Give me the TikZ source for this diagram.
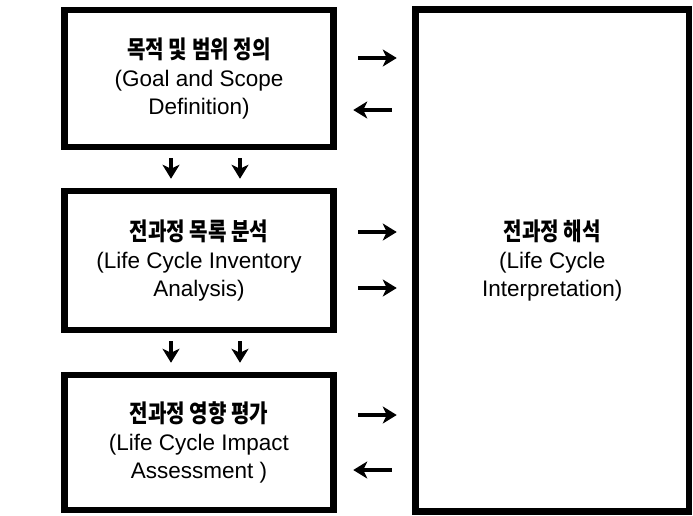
\documentclass[tikz,border=0pt]{standalone}
\usepackage{fontspec}
\setmainfont{Liberation Sans}
\newfontfamily\kr[FakeStretch=0.82]{Noto Sans CJK KR}
\usetikzlibrary{arrows.meta}
\begin{document}
\begin{tikzpicture}[x=1pt,y=-1pt,
  box/.style={draw=black, line width=6.5pt, fill=white, align=center, inner sep=0pt,
    font=\fontsize{22.5}{28}\selectfont, minimum width=269pt},
  kor/.style={},
  arr/.style={line width=4.5pt, -{Stealth[length=14pt,width=17pt,inset=4pt]}}]
\newcommand{\krline}[1]{{\kr\bfseries\fontsize{24.5}{28}\selectfont #1}}
\useasboundingbox[fill=white] (0,0) rectangle (693,515);
\node[box, minimum height=137pt] (b1) at (199,78.5)
  {\krline{목적 및 범위 정의}\\(Goal and Scope\\Definition)};
\node[box, minimum height=139pt] (b2) at (199,260.5)
  {\krline{전과정 목록 분석}\\(Life Cycle Inventory\\Analysis)};
\node[box, minimum height=135pt] (b3) at (199,442.5)
  {\krline{전과정 영향 평가}\\(Life Cycle Impact\\Assessment )};
\node[box, minimum width=273.5pt, minimum height=502pt] (R) at (552.25,260.25)
  {\krline{전과정 해석}\\(Life Cycle\\Interpretation)};
% horizontal arrows
\draw[arr, shorten <=21.5pt, shorten >=15.5pt] ([yshift=20.5pt]b1.east) -- ([yshift=20.5pt]b1.east -| R.west);
\draw[arr, shorten <=20.5pt, shorten >=16.5pt] ([yshift=-31.5pt]b1.east -| R.west) -- ([yshift=-31.5pt]b1.east);
\draw[arr, shorten <=21.5pt, shorten >=15.5pt] ([yshift=28.5pt]b2.east) -- ([yshift=28.5pt]b2.east -| R.west);
\draw[arr, shorten <=21.5pt, shorten >=15.5pt] ([yshift=-27.5pt]b2.east) -- ([yshift=-27.5pt]b2.east -| R.west);
\draw[arr, shorten <=21.5pt, shorten >=15.5pt] ([yshift=27.5pt]b3.east) -- ([yshift=27.5pt]b3.east -| R.west);
\draw[arr, shorten <=20.5pt, shorten >=16.5pt] ([yshift=-27.5pt]b3.east -| R.west) -- ([yshift=-27.5pt]b3.east);
% vertical arrows
\draw[arr, shorten <=8pt, shorten >=9pt] ([xshift=-28pt]b1.south) -- ([xshift=-28pt]b2.north);
\draw[arr, shorten <=8pt, shorten >=9pt] ([xshift=41pt]b1.south) -- ([xshift=41pt]b2.north);
\draw[arr, shorten <=8pt, shorten >=9pt] ([xshift=-28pt]b2.south) -- ([xshift=-28pt]b3.north);
\draw[arr, shorten <=8pt, shorten >=9pt] ([xshift=41pt]b2.south) -- ([xshift=41pt]b3.north);
\end{tikzpicture}
\end{document}
